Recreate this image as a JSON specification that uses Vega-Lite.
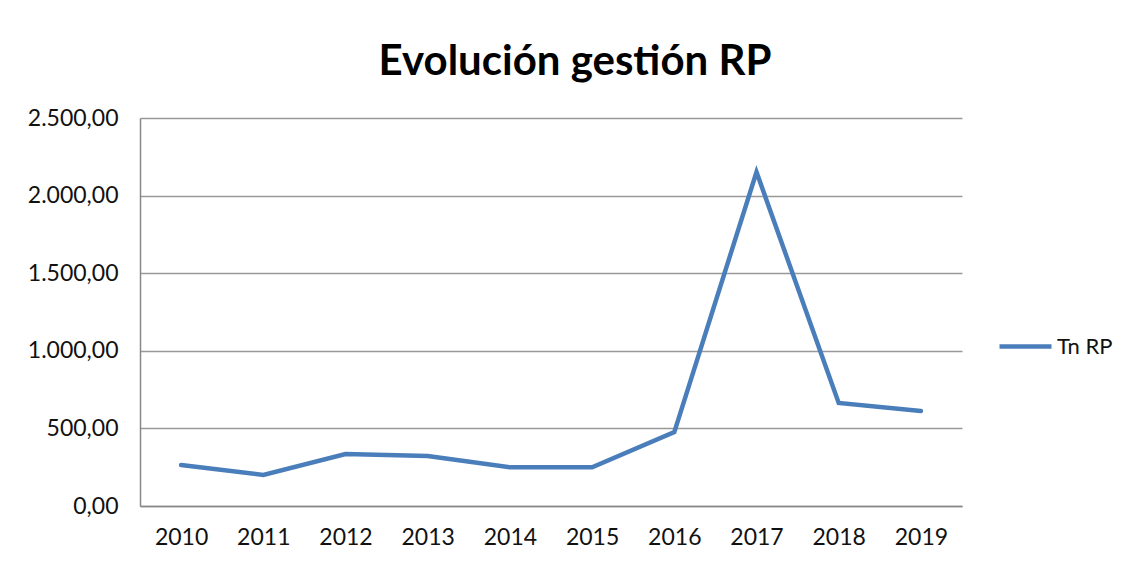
{
  "$schema": "https://vega.github.io/schema/vega-lite/v6.json",
  "width": 822,
  "height": 388,
  "autosize": {"type": "none"},
  "padding": {"left": 140, "top": 118, "right": 172, "bottom": 59},
  "background": "white",
  "title": {
    "text": "Evolución gestión RP",
    "font": "Lato",
    "fontSize": 42,
    "fontWeight": "bold",
    "color": "#000000",
    "anchor": "middle",
    "dx": 24,
    "baseline": "alphabetic",
    "offset": -10
  },
  "config": {
    "locale": {
      "number": {"decimal": ",", "thousands": ".", "grouping": [3], "currency": ["", " €"]}
    },
    "view": {"stroke": null},
    "font": "Lato"
  },
  "data": {
    "values": [
      {"year": "2010", "serie": "Tn RP", "tn": 264},
      {"year": "2011", "serie": "Tn RP", "tn": 200},
      {"year": "2012", "serie": "Tn RP", "tn": 335},
      {"year": "2013", "serie": "Tn RP", "tn": 322},
      {"year": "2014", "serie": "Tn RP", "tn": 249},
      {"year": "2015", "serie": "Tn RP", "tn": 249},
      {"year": "2016", "serie": "Tn RP", "tn": 476},
      {"year": "2017", "serie": "Tn RP", "tn": 2152},
      {"year": "2018", "serie": "Tn RP", "tn": 664},
      {"year": "2019", "serie": "Tn RP", "tn": 612}
    ]
  },
  "mark": {"type": "line", "strokeWidth": 4.5, "strokeJoin": "miter", "strokeCap": "round"},
  "encoding": {
    "x": {
      "field": "year",
      "type": "ordinal",
      "title": null,
      "scale": {"type": "point", "padding": 0.5},
      "axis": {
        "labelAngle": 0,
        "labelFont": "Lato",
        "labelFontSize": 23,
        "labelColor": "#111111",
        "labelPadding": 20,
        "ticks": false,
        "domainColor": "#888888",
        "domainWidth": 1.5,
        "grid": false
      }
    },
    "y": {
      "field": "tn",
      "type": "quantitative",
      "title": null,
      "scale": {"domain": [0, 2500], "nice": false},
      "axis": {
        "values": [0, 500, 1000, 1500, 2000, 2500],
        "format": ",.2f",
        "labelFont": "Lato",
        "labelFontSize": 23,
        "labelColor": "#111111",
        "labelPadding": 22,
        "ticks": false,
        "domainColor": "#888888",
        "domainWidth": 1.5,
        "gridColor": "#999999",
        "gridWidth": 1.5
      }
    },
    "color": {
      "field": "serie",
      "type": "nominal",
      "scale": {"range": ["#4a7ebb"]},
      "legend": {
        "title": null,
        "orient": "none",
        "legendX": 857,
        "legendY": 200,
        "padding": 0,
        "symbolType": "stroke",
        "symbolSize": 2704,
        "symbolStrokeWidth": 4.5,
        "labelFont": "Lato",
        "labelFontSize": 22,
        "labelColor": "#111111",
        "labelOffset": 3
      }
    }
  }
}
